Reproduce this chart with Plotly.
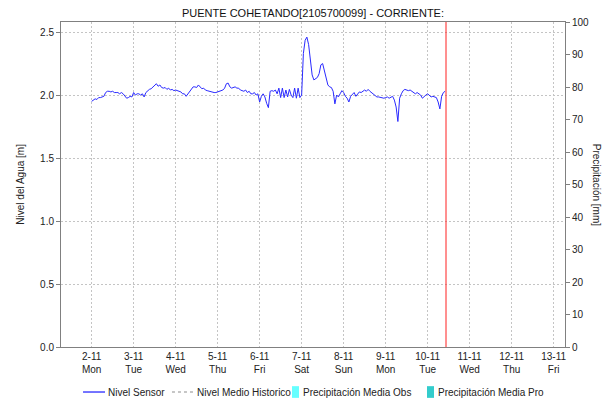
import pandas as pd
import plotly.graph_objects as go

# hourly water level readings from 2020-11-02 00:00
nivel_sensor = [
    # 2-11
    1.95, 1.96, 1.97, 1.965, 1.98, 1.98, 1.985, 1.99, 2.02, 2.03, 2.03, 2.025,
    2.03, 2.02, 2.02, 2.02, 2.01, 2.02, 2.01, 1.99, 1.975, 1.98, 1.99, 1.985,
    # 3-11
    2.02, 2.0, 2.01, 2.01, 2.0, 2.01, 1.985, 2.02, 2.035, 2.045, 2.05, 2.065,
    2.08, 2.09, 2.07, 2.08, 2.06, 2.055, 2.06, 2.045, 2.055, 2.04, 2.045, 2.035,
    # 4-11
    2.04, 2.035, 2.035, 2.025, 2.01, 2.01, 1.99, 2.01, 2.03, 2.055, 2.065, 2.065,
    2.06, 2.08, 2.065, 2.05, 2.055, 2.04, 2.035, 2.03, 2.03, 2.02, 2.02, 2.02,
    # 5-11
    2.025, 2.03, 2.03, 2.04, 2.055, 2.09, 2.095, 2.065, 2.055, 2.06, 2.065, 2.055,
    2.055, 2.04, 2.035, 2.03, 2.04, 2.02, 2.03, 2.01, 2.01, 2.02, 2.0, 2.01,
    # 6-11
    1.945, 1.99, 2.01, 1.985, 1.935, 1.90, 2.03, 2.035, 2.03, 2.04, 2.01, 2.055,
    1.98, 2.055, 1.98, 2.04, 1.985, 2.045, 2.0, 1.98, 2.055, 1.975, 2.055, 1.98,
    # 7-11
    2.0, 2.33, 2.435, 2.46, 2.40, 2.28, 2.16, 2.12, 2.13, 2.14, 2.17, 2.24,
    2.25, 2.20, 2.145, 2.08, 2.065, 2.06, 2.03, 1.93, 2.0, 1.985, 2.01, 2.035,
    # 8-11
    2.02, 1.99, 1.975, 1.945, 1.99, 2.01, 2.02, 1.99, 2.01, 2.025, 2.02, 2.03,
    2.04, 2.03, 2.045, 2.03, 2.02, 2.01, 1.995, 1.985, 1.985, 1.98, 1.98, 1.975,
    # 9-11
    1.98, 1.985, 1.975, 1.985, 1.99, 1.96, 1.905, 1.79, 1.975, 2.01, 2.035, 2.045,
    2.04, 2.035, 2.04, 2.03, 2.025, 2.01, 2.02, 2.01, 2.0, 1.975, 1.99, 2.0,
    # 10-11
    2.01, 2.0, 1.985, 1.99, 1.985, 1.98, 1.945, 1.89, 1.99, 2.02, 2.03,
]
tiempo = pd.date_range("2020-11-02 00:00", periods=len(nivel_sensor), freq="h")

hora_actual = "2020-11-10 10:30"
dias = pd.date_range("2020-11-02", "2020-11-13", freq="D")
etiquetas_dias = ["2-11<br>Mon", "3-11<br>Tue", "4-11<br>Wed", "5-11<br>Thu",
                  "6-11<br>Fri", "7-11<br>Sat", "8-11<br>Sun", "9-11<br>Mon",
                  "10-11<br>Tue", "11-11<br>Wed", "12-11<br>Thu", "13-11<br>Fri"]

# legend entries: (name, kind, colour)
leyenda = [
    ("Nivel Sensor", "line", "#2a2aff"),
    ("Nivel Medio Historico", "dash", "#b4b4b4"),
    ("Precipitación Media Obs", "box", "#66ffff"),
    ("Precipitación Media Pro", "box", "#33cccc"),
]
leyenda_x = [0.0437, 0.2202, 0.4583, 0.7262]

fig = go.Figure()
fig.add_trace(go.Scatter(x=tiempo, y=nivel_sensor, mode="lines", name="Nivel Sensor",
                         line=dict(color="#2a2aff", width=1)))
# empty traces kept for the series that have no data in this period
fig.add_trace(go.Scatter(x=[None], y=[None], mode="lines", name="Nivel Medio Historico",
                         line=dict(color="#b4b4b4", width=1, dash="dash")))
fig.add_trace(go.Bar(x=[None], y=[None], name="Precipitación Media Obs",
                     marker_color="#66ffff", yaxis="y2"))
fig.add_trace(go.Bar(x=[None], y=[None], name="Precipitación Media Pro",
                     marker_color="#33cccc", yaxis="y2"))

fig.add_shape(type="line", xref="x", yref="paper", x0=hora_actual, x1=hora_actual,
              y0=0, y1=1, line=dict(color="#ff2020", width=1))

# legend drawn by hand, one row below the axis
ly = -0.1385
for (nombre, tipo, color), lx in zip(leyenda, leyenda_x):
    if tipo == "box":
        fig.add_shape(type="rect", xref="paper", yref="paper", x0=lx, x1=lx + 0.0139,
                      y0=ly - 0.018, y1=ly + 0.018, line=dict(width=0), fillcolor=color)
        tx = lx + 0.018
    else:
        fig.add_shape(type="line", xref="paper", yref="paper", x0=lx, x1=lx + 0.0436,
                      y0=ly, y1=ly, line=dict(color=color, width=1.3,
                                              dash="solid" if tipo == "line" else "3px,3px"))
        tx = lx + 0.046
    fig.add_annotation(text=nombre, xref="paper", yref="paper", x=tx, y=ly,
                       xanchor="left", yanchor="middle", showarrow=False,
                       font=dict(size=10, color="#222"))

fig.add_annotation(text="Nivel del Agua [m]", textangle=-90, xref="paper", yref="paper",
                   x=-0.081, y=0.5, xanchor="center", yanchor="middle", showarrow=False,
                   font=dict(size=10, color="#222"))
fig.add_annotation(text="Precipitación [mm]", textangle=90, xref="paper", yref="paper",
                   x=1.063, y=0.5, xanchor="center", yanchor="middle", showarrow=False,
                   font=dict(size=10, color="#222"))

# page body adds an 8px offset, so the figure is 8px smaller on each side
fig.update_layout(
    width=607, height=393,
    margin=dict(l=53, r=50, t=14, b=54),
    paper_bgcolor="white", plot_bgcolor="white",
    font=dict(family="Liberation Sans, Arial, sans-serif", size=10, color="#222"),
    title=dict(text="PUENTE COHETANDO[2105700099] - CORRIENTE:", x=0.5, xref="paper",
               y=0.986, yref="container", yanchor="middle",
               font=dict(size=11, color="#111")),
    showlegend=False,
    xaxis=dict(range=["2020-11-01 06:30", "2020-11-13 06:30"], tickvals=dias,
               ticktext=etiquetas_dias, showgrid=True, gridcolor="#c4c4c4",
               griddash="2px,2px", showline=True, mirror=True, linecolor="#808080",
               ticks="", zeroline=False, automargin=False),
    yaxis=dict(range=[0, 2.58], tickvals=[0, 0.5, 1.0, 1.5, 2.0, 2.5],
               tickformat=".1f", ticks="outside", ticklen=4, tickcolor="#808080",
               showgrid=True, gridcolor="#c4c4c4", griddash="2px,2px",
               showline=True, linecolor="#808080", zeroline=False, automargin=False),
    yaxis2=dict(range=[0, 100], dtick=10, overlaying="y", side="right",
                ticks="outside", ticklen=4, tickcolor="#808080", showgrid=False,
                showline=True, linecolor="#808080", zeroline=False, automargin=False),
)

fig.write_html("out.html")
